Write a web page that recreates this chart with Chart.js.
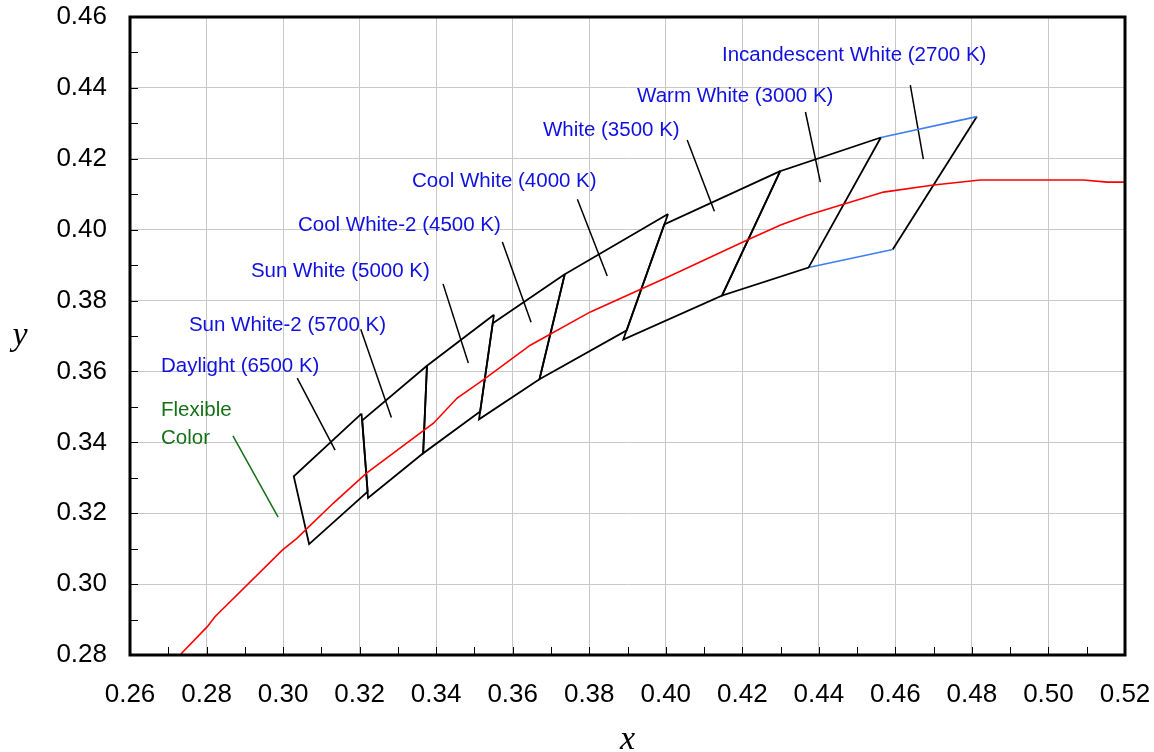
<!DOCTYPE html>
<html>
<head>
<meta charset="utf-8">
<script src="https://cdn.jsdelivr.net/npm/chart.js@4/dist/chart.umd.min.js"></script>
<style>
  html, body { margin: 0; padding: 0; background: #fff; }
  #wrap { width: 1154px; height: 752px; }
</style>
</head>
<body>
<div id="wrap"><canvas id="chart"></canvas></div>
<script>
// tick labels
const xTicks = [0.26, 0.28, 0.30, 0.32, 0.34, 0.36, 0.38, 0.40, 0.42, 0.44, 0.46, 0.48, 0.50, 0.52];
const yTicks = [0.28, 0.30, 0.32, 0.34, 0.36, 0.38, 0.40, 0.42, 0.44, 0.46];

// black body locus (red)
const locusX = [0.2722, 0.2735, 0.2802, 0.2822, 0.2998, 0.3036, 0.3131, 0.3218, 0.3393, 0.3455, 0.3523,
                0.3646, 0.3803, 0.4004, 0.4213, 0.4300, 0.4370, 0.4569, 0.4700, 0.4822, 0.5091, 0.5154, 0.5214];
const locusY = [0.2786, 0.2805, 0.2880, 0.2908, 0.3096, 0.3129, 0.3228, 0.3313, 0.3454, 0.3525, 0.3576,
                0.3674, 0.3768, 0.3866, 0.3971, 0.4013, 0.4041, 0.4106, 0.4126, 0.4140, 0.4140, 0.4134, 0.4134];

// quadrangle corners [x, y]: top-right, top-left, bottom-left, bottom-right
const bin2700 = [[0.4813, 0.4319], [0.4562, 0.4260], [0.4373, 0.3893], [0.4593, 0.3944]];
const bin3000 = [[0.4562, 0.4260], [0.4299, 0.4165], [0.4147, 0.3814], [0.4373, 0.3893]];
const bin3500 = [[0.4299, 0.4165], [0.3996, 0.4015], [0.3889, 0.3690], [0.4147, 0.3814]];
const bin4000 = [[0.4006, 0.4044], [0.3736, 0.3874], [0.3670, 0.3578], [0.3898, 0.3716]];
const bin4500 = [[0.3736, 0.3874], [0.3548, 0.3736], [0.3512, 0.3465], [0.3670, 0.3578]];
const bin5000 = [[0.3551, 0.3760], [0.3376, 0.3616], [0.3366, 0.3369], [0.3515, 0.3487]];
const bin5700 = [[0.3376, 0.3616], [0.3207, 0.3462], [0.3222, 0.3243], [0.3366, 0.3369]];
const bin6500 = [[0.3205, 0.3481], [0.3028, 0.3304], [0.3068, 0.3113], [0.3221, 0.3261]];

// callout text and where it sits (left edge, middle)
const labelText = ['Incandescent White (2700 K)', 'Warm White (3000 K)', 'White (3500 K)', 'Cool White (4000 K)',
                   'Cool White-2 (4500 K)', 'Sun White (5000 K)', 'Sun White-2 (5700 K)', 'Daylight (6500 K)'];
const labelAt = [[0.4147, 0.4493], [0.3925, 0.4377], [0.3679, 0.4281], [0.3337, 0.4137],
                 [0.3039, 0.4013], [0.2916, 0.3883], [0.2754, 0.3731], [0.2681, 0.3613]];
// leader lines [x1, y1, x2, y2]
const leaders = [[0.4639, 0.4408, 0.4673, 0.4199], [0.4365, 0.4332, 0.4404, 0.4134],
                 [0.4056, 0.4253, 0.4127, 0.4052], [0.3769, 0.4086, 0.3847, 0.3869],
                 [0.3573, 0.3965, 0.3648, 0.3739], [0.3418, 0.3847, 0.3484, 0.3624],
                 [0.3203, 0.3719, 0.3283, 0.3470], [0.3037, 0.3581, 0.3136, 0.3378]];
const flexText = ['Flexible', 'Color'];
const flexAt = [[0.2681, 0.3491], [0.2681, 0.3412]];
const flexLeader = [0.2869, 0.3418, 0.2987, 0.3189];

const BLUE_TEXT = '#1010e0';
const GREEN = '#157015';

function pts(corners) {
  return corners.map(c => ({ x: c[0], y: c[1] }));
}
function closed(corners) {
  return pts(corners.concat([corners[0]]));
}
function line(data, color, width) {
  return { data: data, borderColor: color, borderWidth: width, showLine: true, pointRadius: 0, tension: 0, fill: false };
}

const datasets = [];
datasets.push(line(locusX.map((v, i) => ({ x: v, y: locusY[i] })), '#ff0000', 1.6));
[bin3000, bin3500, bin4000, bin4500, bin5000, bin5700, bin6500].forEach(b => datasets.push(line(closed(b), '#000', 1.8)));
// 2700 K: top and bottom edges blue
datasets.push(line(pts([bin2700[1], bin2700[0]]), '#3f7df0', 1.6));
datasets.push(line(pts([bin2700[3], bin2700[2]]), '#3f7df0', 1.6));
datasets.push(line(pts([bin2700[0], bin2700[3]]), '#000', 1.8));
leaders.forEach(l => datasets.push(line([{ x: l[0], y: l[1] }, { x: l[2], y: l[3] }], '#000', 1.5)));
datasets.push(line([{ x: flexLeader[0], y: flexLeader[1] }, { x: flexLeader[2], y: flexLeader[3] }], GREEN, 1.5));

const decor = {
  id: 'decor',
  afterDatasetsDraw(chart) {
    const { ctx, chartArea: a, scales: { x, y } } = chart;
    ctx.save();
    // inside tick marks every 0.01
    ctx.strokeStyle = '#000';
    ctx.lineWidth = 1;
    ctx.beginPath();
    for (let i = 0; i < xTicks.length; i++) {
      const vals = [xTicks[i]];
      if (i < xTicks.length - 1) vals.push((xTicks[i] + xTicks[i + 1]) / 2);
      vals.forEach(v => {
        const px = Math.round(x.getPixelForValue(v)) + 0.5;
        ctx.moveTo(px, a.bottom);
        ctx.lineTo(px, a.bottom - 8);
      });
    }
    for (let i = 0; i < yTicks.length; i++) {
      const vals = [yTicks[i]];
      if (i < yTicks.length - 1) vals.push((yTicks[i] + yTicks[i + 1]) / 2);
      vals.forEach(v => {
        const py = Math.round(y.getPixelForValue(v)) + 0.5;
        ctx.moveTo(a.left, py);
        ctx.lineTo(a.left + 8, py);
      });
    }
    ctx.stroke();

    // frame
    ctx.lineWidth = 3;
    ctx.strokeRect(a.left, a.top, a.right - a.left, a.bottom - a.top);

    // callout labels
    ctx.font = '20.5px "Liberation Sans", Arial, sans-serif';
    ctx.textAlign = 'left';
    ctx.textBaseline = 'middle';
    ctx.fillStyle = BLUE_TEXT;
    labelText.forEach((t, i) => {
      ctx.fillText(t, x.getPixelForValue(labelAt[i][0]), y.getPixelForValue(labelAt[i][1]));
    });
    ctx.fillStyle = GREEN;
    flexText.forEach((t, i) => {
      ctx.fillText(t, x.getPixelForValue(flexAt[i][0]), y.getPixelForValue(flexAt[i][1]));
    });

    // axis titles
    ctx.fillStyle = '#000';
    ctx.font = 'italic 34px "Liberation Serif", "Times New Roman", serif';
    ctx.textAlign = 'center';
    ctx.fillText('y', 20, (a.top + a.bottom) / 2);
    ctx.fillText('x', (a.left + a.right) / 2, 740);
    ctx.restore();
  }
};

const tickFont = { family: '"Liberation Sans", Arial, sans-serif', size: 26 };

new Chart(document.getElementById('chart'), {
  type: 'scatter',
  data: { datasets: datasets },
  options: {
    responsive: true,
    maintainAspectRatio: false,
    animation: false,
    layout: { padding: { left: 0, top: 17, right: 29, bottom: 0 } },
    plugins: { legend: { display: false }, tooltip: { enabled: false } },
    scales: {
      x: {
        type: 'linear',
        min: 0.26,
        max: 0.52,
        afterBuildTicks: s => { s.ticks = xTicks.map(v => ({ value: v })); },
        afterFit: s => { s.height = 97; s.paddingLeft = 0; s.paddingRight = 0; },
        ticks: { autoSkip: false, maxRotation: 0, padding: 24, color: '#000', font: tickFont,
                 callback: v => v.toFixed(2) },
        grid: { color: '#c8c8c8', lineWidth: 1, drawTicks: false },
        border: { display: false }
      },
      y: {
        type: 'linear',
        min: 0.28,
        max: 0.46,
        afterBuildTicks: s => { s.ticks = yTicks.map(v => ({ value: v })); },
        afterFit: s => { s.width = 130; s.paddingTop = 0; s.paddingBottom = 0; },
        ticks: { autoSkip: false, padding: 23, color: '#000', font: tickFont,
                 callback: v => v.toFixed(2) },
        grid: { color: '#c8c8c8', lineWidth: 1, drawTicks: false },
        border: { display: false }
      }
    }
  },
  plugins: [decor]
});
</script>
</body>
</html>
